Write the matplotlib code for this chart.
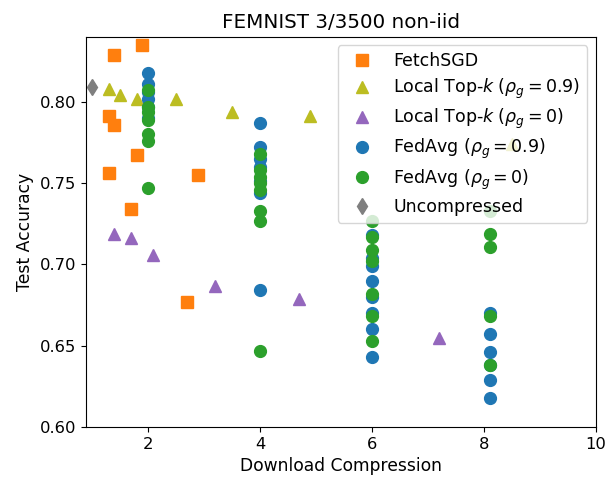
import matplotlib
matplotlib.use('Agg')
import matplotlib.pyplot as plt

# FetchSGD
fetch_x = [1.4, 1.9, 1.3, 1.4, 1.8, 1.3, 2.9, 1.7, 2.7]
fetch_y = [0.829, 0.835, 0.791, 0.786, 0.767, 0.756, 0.755, 0.734, 0.677]

# local top-k, rho_g = 0.9
topk9_x = [1.3, 1.5, 1.8, 2.5, 3.5, 4.9, 8.5]
topk9_y = [0.808, 0.804, 0.802, 0.802, 0.794, 0.791, 0.774]

# local top-k, rho_g = 0
topk0_x = [1.4, 1.7, 2.1, 3.2, 4.7, 7.2]
topk0_y = [0.719, 0.716, 0.706, 0.687, 0.679, 0.655]

# fedavg, rho_g = 0.9
fa9_x = [2, 2, 2, 2, 2, 2,
         4, 4, 4, 4, 4, 4, 4,
         6, 6, 6, 6, 6, 6, 6, 6,
         8.1, 8.1, 8.1, 8.1, 8.1, 8.1]
fa9_y = [0.818, 0.811, 0.806, 0.802, 0.797, 0.790,
         0.787, 0.772, 0.765, 0.760, 0.751, 0.744, 0.684,
         0.718, 0.704, 0.699, 0.690, 0.680, 0.670, 0.660, 0.643,
         0.670, 0.657, 0.646, 0.638, 0.629, 0.618]

# fedavg, rho_g = 0
fa0_x = [2, 2, 2, 2, 2, 2, 2,
         4, 4, 4, 4, 4, 4, 4, 4,
         6, 6, 6, 6, 6, 6, 6,
         8.1, 8.1, 8.1, 8.1, 8.1]
fa0_y = [0.807, 0.797, 0.794, 0.789, 0.780, 0.776, 0.747,
         0.768, 0.758, 0.754, 0.750, 0.746, 0.733, 0.727, 0.647,
         0.727, 0.717, 0.709, 0.702, 0.682, 0.668, 0.653,
         0.733, 0.719, 0.711, 0.668, 0.638]

# uncompressed
unc_x = [1.0]
unc_y = [0.809]

fig = plt.figure(figsize=(6.05, 4.84), dpi=100)
ax = fig.add_axes([0.1417, 0.1178, 0.8433, 0.8062])

ms = 8.5
ax.plot(fetch_x, fetch_y, 's', color='C1', ms=ms, label='FetchSGD')
ax.plot(topk9_x, topk9_y, '^', color='C8', ms=ms, label=r'Local Top-$k$ ($\rho_g=0.9$)')
ax.plot(topk0_x, topk0_y, '^', color='C4', ms=ms, label=r'Local Top-$k$ ($\rho_g=0$)')
ax.plot(fa9_x, fa9_y, 'o', color='C0', ms=ms, label=r'FedAvg ($\rho_g=0.9$)')
ax.plot(fa0_x, fa0_y, 'o', color='C2', ms=ms, label=r'FedAvg ($\rho_g=0$)')
ax.plot(unc_x, unc_y, 'd', color='C7', ms=ms, label='Uncompressed')

ax.set_xlim(0.89, 10)
ax.set_ylim(0.60, 0.84)
ax.set_yticks([0.60, 0.65, 0.70, 0.75, 0.80])
ax.tick_params(labelsize=11.8)
ax.set_xlabel('Download Compression', fontsize=12.3)
ax.set_ylabel('Test Accuracy', fontsize=12.3)
ax.set_title('FEMNIST 3/3500 non-iid', fontsize=14.3)
ax.legend(loc='upper right', fontsize=12.5, labelspacing=0.35)

fig.savefig('out.png', dpi=100)
